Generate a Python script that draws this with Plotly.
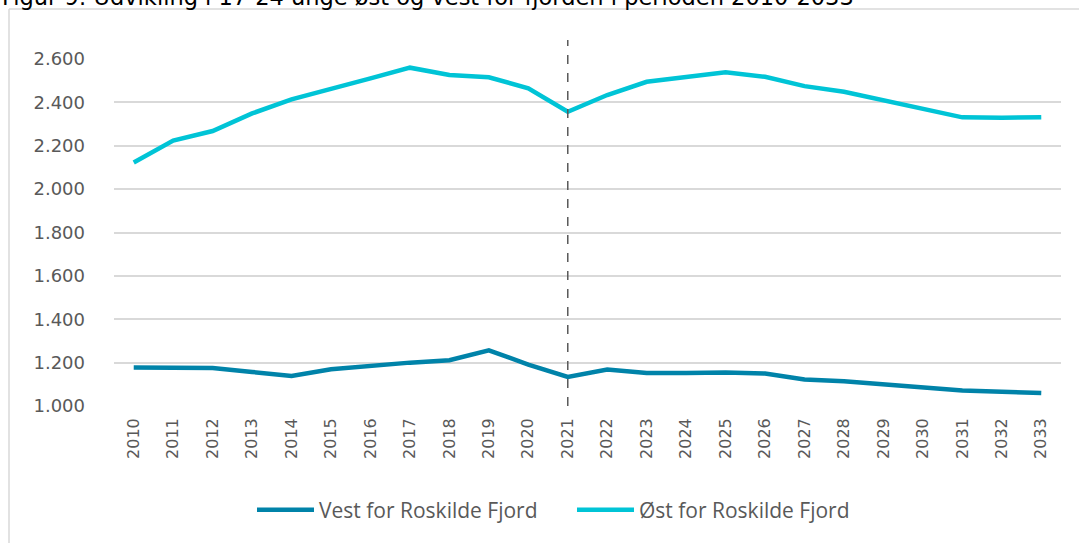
import plotly.graph_objects as go

years = [str(y) for y in range(2010, 2034)]
vest = [1177, 1176, 1175, 1157, 1138, 1169, 1185, 1200, 1211, 1257, 1191, 1134,
        1168, 1152, 1152, 1155, 1150, 1122, 1114, 1100, 1083, 1072, 1066, 1060]
oest = [2123, 2224, 2268, 2349, 2414, 2460, 2511, 2560, 2526, 2516, 2465, 2357,
        2434, 2495, 2516, 2539, 2518, 2475, 2449, 2411, 2368, 2331, 2329, 2331]
series_names = ["Vest for Roskilde Fjord", "Øst for Roskilde Fjord"]
colors = ["#0083a9", "#00c4d6"]
title = "Figur 9: Udvikling i 17-24 unge øst og vest for fjorden i perioden 2010-2033"
split_index = years.index("2021")

W, H = 1079, 543
L, R, T, B = 114, 18, 59, 137
pw, ph = W - L - R, H - T - B

def px(x):
    return (x - L) / pw

def py(y):
    return (H - B - y) / ph

fig = go.Figure()
for name, vals, c in zip(series_names, [vest, oest], colors):
    fig.add_trace(go.Scatter(x=years, y=vals, mode="lines", name=name,
                             line=dict(color=c, width=4.5)))

fig.add_shape(type="line", xref="x", yref="paper", x0=split_index, x1=split_index,
              y0=0, y1=py(40), line=dict(color="#595959", width=1.5, dash="dash"),
              layer="above")
# frame
fig.add_shape(type="line", xref="paper", yref="paper", x0=px(9), x1=px(1085),
              y0=py(9), y1=py(9), line=dict(color="#d9d9d9", width=1.5))
fig.add_shape(type="line", xref="paper", yref="paper", x0=px(9), x1=px(9),
              y0=py(9), y1=py(550), line=dict(color="#d9d9d9", width=1.5))

fig.add_annotation(text=title, xref="paper", yref="paper", x=px(0), y=py(12),
                   xanchor="left", yanchor="bottom", showarrow=False,
                   font=dict(family="DejaVu Sans", size=22.5, color="#000000"))

fig.update_layout(
    width=W, height=H, margin=dict(l=L, r=R, t=T, b=B),
    paper_bgcolor="white", plot_bgcolor="white",
    separators=",.",
    font=dict(family="DejaVu Sans", color="#595959"),
    showlegend=True,
    legend=dict(orientation="h", x=px(252), y=py(510), xanchor="left", yanchor="middle",
                font=dict(family="Open Sans", size=21, color="#595959"),
                entrywidth=248, itemwidth=57),
)
fig.update_xaxes(type="category", range=[-0.5, 23.5], tickangle=-90, showgrid=False,
                 showline=False, zeroline=False, ticks="",
                 tickfont=dict(family="DejaVu Sans", size=16, color="#595959"),
                 ticklabelstandoff=8)
fig.update_yaxes(range=[1000, 2600], dtick=200, tickformat=",d", showgrid=True,
                 gridcolor="#d9d9d9", gridwidth=1.5, zeroline=False, showline=False,
                 tickfont=dict(family="DejaVu Sans", size=18, color="#595959"),
                 ticklabelstandoff=28)

fig.write_html("out.html", config={"displayModeBar": False},
               post_script="document.body.style.margin='0';document.body.style.overflow='hidden';")
